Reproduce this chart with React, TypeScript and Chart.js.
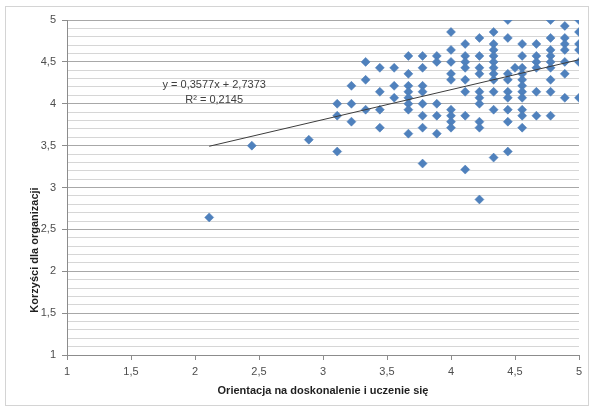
import { useEffect, useRef } from "react";
import { Chart, registerables } from "chart.js";

Chart.register(...registerables);

// Orientacja na doskonalenie i uczenie się (x)
const orientacja: number[] = [
  2.111,
  2.444,
  2.889,
  3.111, 3.111, 3.111,
  3.222, 3.222, 3.222,
  3.333, 3.333, 3.333,
  3.444, 3.444, 3.444, 3.444,
  3.556, 3.556, 3.556,
  3.667, 3.667, 3.667, 3.667, 3.667, 3.667, 3.667, 3.667,
  3.778, 3.778, 3.778, 3.778, 3.778, 3.778, 3.778, 3.778,
  3.889, 3.889, 3.889, 3.889, 3.889,
  4, 4, 4, 4, 4, 4, 4, 4, 4,
  4.111, 4.111, 4.111, 4.111, 4.111, 4.111, 4.111, 4.111,
  4.222, 4.222, 4.222, 4.222, 4.222, 4.222, 4.222, 4.222, 4.222, 4.222,
  4.333, 4.333, 4.333, 4.333, 4.333, 4.333, 4.333, 4.333, 4.333, 4.333, 4.333,
  4.444, 4.444, 4.444, 4.444, 4.444, 4.444, 4.444, 4.444, 4.444,
  4.5,
  4.556, 4.556, 4.556, 4.556, 4.556, 4.556, 4.556, 4.556, 4.556, 4.556, 4.556,
  4.667, 4.667, 4.667, 4.667, 4.667, 4.667,
  4.778, 4.778, 4.778, 4.778, 4.778, 4.778, 4.778, 4.778, 4.778,
  4.889, 4.889, 4.889, 4.889, 4.889, 4.889, 4.889,
  5, 5, 5, 5, 5, 5,
];

// Korzyści dla organizacji (y)
const korzysci: number[] = [
  2.643,
  3.5,
  3.571,
  4, 3.857, 3.429,
  4.214, 4, 3.786,
  4.5, 4.286, 3.929,
  4.429, 4.143, 3.929, 3.714,
  4.429, 4.214, 4.071,
  4.571, 4.357, 4.214, 4.143, 4.071, 4, 3.929, 3.643,
  4.571, 4.429, 4.214, 4.143, 4, 3.857, 3.714, 3.286,
  4.571, 4.5, 4, 3.857, 3.643,
  4.857, 4.643, 4.5, 4.357, 4.286, 3.929, 3.857, 3.786, 3.714,
  4.714, 4.571, 4.5, 4.429, 4.286, 4.143, 3.857, 3.214,
  4.786, 4.571, 4.429, 4.357, 4.143, 4.071, 4, 3.786, 3.714, 2.857,
  4.857, 4.714, 4.643, 4.571, 4.5, 4.429, 4.357, 4.286, 4.143, 3.929, 3.357,
  5, 4.786, 4.357, 4.286, 4.143, 4.071, 3.929, 3.786, 3.429,
  4.429,
  4.714, 4.571, 4.429, 4.357, 4.286, 4.214, 4.143, 4.071, 3.929, 3.857, 3.714,
  4.714, 4.571, 4.5, 4.429, 4.143, 3.857,
  5, 4.786, 4.643, 4.571, 4.5, 4.429, 4.286, 4.143, 3.857,
  4.929, 4.786, 4.714, 4.643, 4.5, 4.357, 4.071,
  5, 4.857, 4.714, 4.643, 4.5, 4.071,
];

const trendSlope = 0.3577;
const trendIntercept = 2.7373;
const equationLines = ["y = 0,3577x + 2,7373", "R² = 0,2145"];
const xAxisTitle = "Orientacja na doskonalenie i uczenie się";
const yAxisTitle = "Korzyści dla organizacji";
const axisMin = 1;
const axisMax = 5;

const fmt = (v: number) => String(Math.round(v * 10) / 10).replace(".", ",");
const isMajor = (v: number) => Math.round(v * 10) % 5 === 0;

export default function App() {
  const ref = useRef<HTMLCanvasElement | null>(null);

  useEffect(() => {
    document.body.style.margin = "0";
    const canvas = ref.current;
    if (!canvas) return;

    const points = orientacja.map((x, i) => ({ x, y: korzysci[i] }));
    const minX = Math.min(...orientacja);
    const maxX = Math.max(...orientacja);
    const trend = [minX, maxX].map((x) => ({ x, y: trendSlope * x + trendIntercept }));

    const overlay = {
      id: "overlay",
      afterDraw(chart: any) {
        const ctx = chart.ctx as CanvasRenderingContext2D;
        const area = chart.chartArea;
        ctx.save();
        // outer frame
        ctx.strokeStyle = "#d4d4d4";
        ctx.lineWidth = 1;
        ctx.strokeRect(5.5, 6.5, 583, 399);
        // equation
        const xs = chart.scales.x;
        const ys = chart.scales.y;
        const ex = xs.getPixelForValue(2.15);
        const ey = ys.getPixelForValue(4.22);
        ctx.fillStyle = "#404040";
        ctx.font = "11px 'Liberation Sans', Arial, sans-serif";
        ctx.textAlign = "center";
        ctx.textBaseline = "middle";
        ctx.fillText(equationLines[0], ex, ey);
        ctx.fillText(equationLines[1], ex, ey + 15);
        // axis titles
        ctx.fillStyle = "#1f1f1f";
        ctx.font = "bold 11px 'Liberation Sans Narrow', 'Liberation Sans', Arial, sans-serif";
        ctx.fillText(xAxisTitle, (area.left + area.right) / 2, 391);
        ctx.translate(35, 250);
        ctx.rotate(-Math.PI / 2);
        ctx.fillText(yAxisTitle, 0, 0);
        ctx.restore();
      },
    };

    const chart = new Chart(canvas, {
      type: "scatter",
      data: {
        datasets: [
          {
            type: "line",
            data: trend,
            borderColor: "#3c3c3c",
            borderWidth: 1,
            pointRadius: 0,
            fill: false,
          },
          {
            data: points,
            pointStyle: "rectRot",
            pointRadius: 4.5,
            backgroundColor: "#4f81bd",
            borderColor: "#4a7ab5",
            borderWidth: 0.5,
          },
        ],
      } as any,
      options: {
        responsive: false,
        animation: false,
        devicePixelRatio: 1,
        layout: { padding: { left: 0, right: 14, top: 20, bottom: 0 } },
        plugins: {
          legend: { display: false },
          tooltip: { enabled: false },
        },
        scales: {
          x: {
            type: "linear",
            min: axisMin,
            max: axisMax,
            afterFit: (s: any) => {
              s.height = 55;
            },
            ticks: {
              stepSize: 0.5,
              padding: 5,
              color: "#4d4d4d",
              font: { family: "'Liberation Sans', Arial, sans-serif", size: 11 },
              callback: (v: any) => fmt(Number(v)),
            },
            grid: {
              drawOnChartArea: false,
              drawTicks: true,
              tickLength: 5,
              tickColor: "#8c8c8c",
            },
            border: { color: "#8c8c8c" },
          },
          y: {
            type: "linear",
            min: axisMin,
            max: axisMax,
            afterFit: (s: any) => {
              s.width = 67;
            },
            ticks: {
              stepSize: 0.1,
              autoSkip: false,
              padding: 6,
              color: "#4d4d4d",
              font: { family: "'Liberation Sans', Arial, sans-serif", size: 11 },
              callback: (v: any) => (isMajor(Number(v)) ? fmt(Number(v)) : ""),
            },
            grid: {
              tickLength: 5,
              color: (c: any) => (isMajor(c.tick.value) ? "#a8a8a8" : "#d6d6d6"),
              tickColor: (c: any) => (isMajor(c.tick.value) ? "#8c8c8c" : "rgba(0,0,0,0)"),
            },
            border: { color: "#8c8c8c" },
          },
        },
      } as any,
      plugins: [overlay],
    });

    return () => chart.destroy();
  }, []);

  return <canvas ref={ref} width={593} height={410} style={{ display: "block" }} />;
}
